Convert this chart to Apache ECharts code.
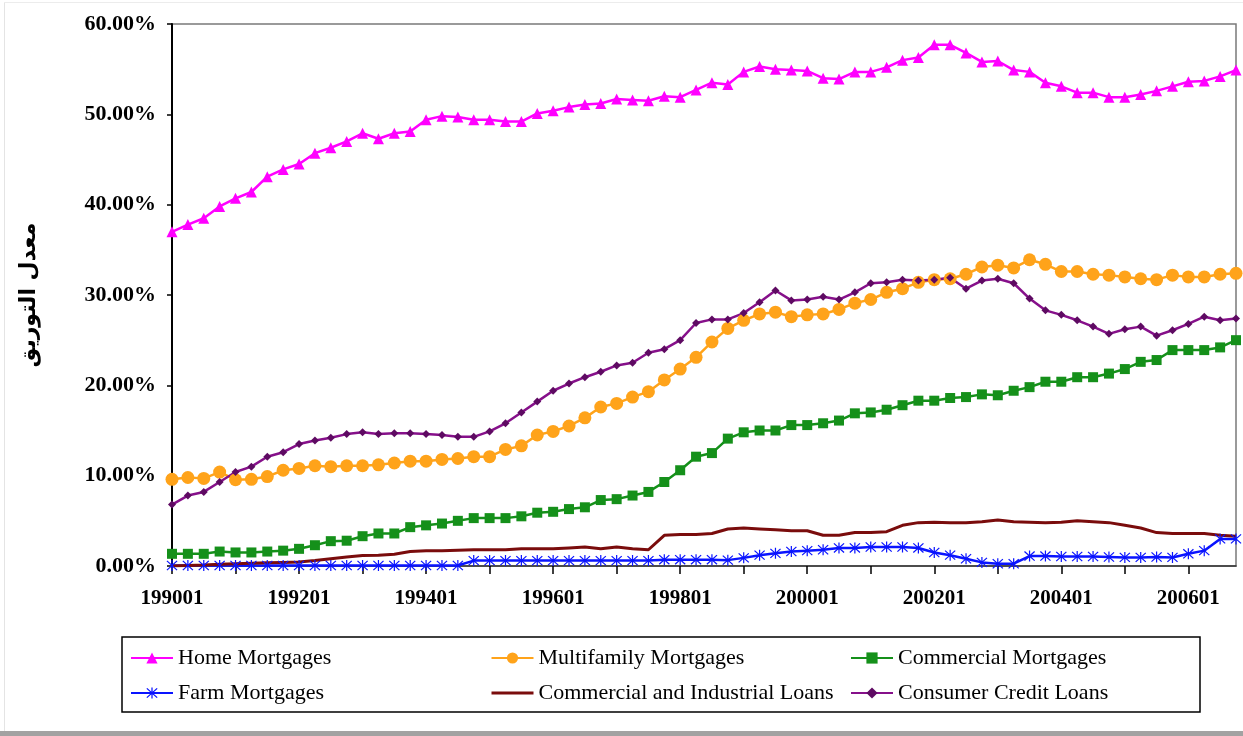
<!DOCTYPE html>
<html>
<head>
<meta charset="utf-8">
<title>Securitization rates by loan type, 1990-2006</title>
<script src="https://cdn.jsdelivr.net/npm/echarts@6/dist/echarts.min.js"></script>
<style>
  html, body { margin: 0; padding: 0; background: #ffffff; }
  #chart { width: 1243px; height: 736px; }
</style>
</head>
<body>
<div id="chart"></div>
<script>
// Quarterly periods, 1990 Q1 .. 2006 Q4 (YYYYQQ)
const categories = [
  '199001','199002','199003','199004','199101','199102','199103','199104',
  '199201','199202','199203','199204','199301','199302','199303','199304',
  '199401','199402','199403','199404','199501','199502','199503','199504',
  '199601','199602','199603','199604','199701','199702','199703','199704',
  '199801','199802','199803','199804','199901','199902','199903','199904',
  '200001','200002','200003','200004','200101','200102','200103','200104',
  '200201','200202','200203','200204','200301','200302','200303','200304',
  '200401','200402','200403','200404','200501','200502','200503','200504',
  '200601','200602','200603','200604'
];

// Y axis ticks (percent)
const yTicks = [0, 10, 20, 30, 40, 50, 60];

// Securitization rate, percent of outstanding loans
const homeMortgages = [
  37.0, 37.8, 38.5, 39.8, 40.7, 41.4, 43.1, 43.9, 44.5, 45.7, 46.3, 47.0, 47.9, 47.3, 47.9, 48.1,
  49.4, 49.8, 49.7, 49.4, 49.4, 49.2, 49.2, 50.1, 50.4, 50.8, 51.1, 51.2, 51.7, 51.6, 51.5, 52.0,
  51.9, 52.7, 53.5, 53.3, 54.7, 55.3, 55.0, 54.9, 54.8, 54.0, 53.9, 54.7, 54.7, 55.2, 56.0, 56.3,
  57.7, 57.7, 56.8, 55.8, 55.9, 54.9, 54.7, 53.5, 53.1, 52.4, 52.4, 51.9, 51.9, 52.2, 52.6, 53.1,
  53.6, 53.7, 54.2, 54.9
];
const multifamilyMortgages = [
  9.6, 9.8, 9.7, 10.4, 9.55, 9.6, 9.9, 10.6, 10.8, 11.1, 11.0, 11.1, 11.1, 11.2, 11.4, 11.6,
  11.6, 11.8, 11.9, 12.1, 12.1, 12.9, 13.3, 14.5, 14.9, 15.5, 16.4, 17.6, 18.0, 18.7, 19.3, 20.6,
  21.8, 23.1, 24.8, 26.3, 27.2, 27.9, 28.1, 27.6, 27.8, 27.9, 28.4, 29.1, 29.5, 30.3, 30.7, 31.4,
  31.7, 31.8, 32.3, 33.1, 33.3, 33.0, 33.9, 33.4, 32.6, 32.6, 32.3, 32.2, 32.0, 31.8, 31.7, 32.2,
  32.0, 32.0, 32.3, 32.4
];
const commercialMortgages = [
  1.35, 1.35, 1.35, 1.6, 1.5, 1.5, 1.6, 1.7, 1.9, 2.3, 2.75, 2.8, 3.3, 3.6, 3.6, 4.3,
  4.5, 4.7, 5.0, 5.3, 5.3, 5.3, 5.5, 5.9, 6.0, 6.3, 6.5, 7.3, 7.4, 7.8, 8.2, 9.3,
  10.6, 12.1, 12.5, 14.1, 14.8, 15.0, 15.0, 15.6, 15.6, 15.8, 16.1, 16.9, 17.0, 17.3, 17.8, 18.3,
  18.3, 18.6, 18.7, 19.0, 18.9, 19.4, 19.8, 20.4, 20.4, 20.9, 20.9, 21.3, 21.8, 22.6, 22.8, 23.9,
  23.9, 23.9, 24.2, 25.0
];
const farmMortgages = [
  0.05, 0.05, 0.05, 0.05, 0.05, 0.05, 0.05, 0.05, 0.05, 0.05, 0.05, 0.05, 0.05, 0.05, 0.05, 0.05,
  0.05, 0.05, 0.05, 0.6, 0.6, 0.6, 0.6, 0.6, 0.6, 0.6, 0.6, 0.6, 0.6, 0.6, 0.6, 0.7,
  0.7, 0.7, 0.7, 0.65, 0.9, 1.2, 1.4, 1.6, 1.7, 1.8, 2.0, 2.0, 2.1, 2.1, 2.1, 2.0,
  1.5, 1.2, 0.8, 0.4, 0.25, 0.25, 1.1, 1.1, 1.05, 1.05, 1.05, 1.0, 0.95, 0.95, 1.0, 0.95,
  1.35, 1.7, 3.0, 3.0
];
const commercialIndustrialLoans = [
  0.0, 0.05, 0.1, 0.2, 0.25, 0.3, 0.35, 0.4, 0.45, 0.6, 0.8, 1.0, 1.15, 1.2, 1.3, 1.6,
  1.7, 1.7, 1.75, 1.8, 1.8, 1.8, 1.9, 1.9, 1.9, 2.0, 2.1, 1.9, 2.1, 1.9, 1.8, 3.4,
  3.5, 3.5, 3.6, 4.1, 4.2, 4.1, 4.0, 3.9, 3.9, 3.4, 3.4, 3.7, 3.7, 3.8, 4.5, 4.8,
  4.85, 4.8, 4.8, 4.9, 5.1, 4.9, 4.85, 4.8, 4.85, 5.0, 4.9, 4.8, 4.5, 4.2, 3.7, 3.6,
  3.6, 3.6, 3.4, 3.3
];
const consumerCreditLoans = [
  6.8, 7.8, 8.2, 9.3, 10.4, 11.0, 12.1, 12.6, 13.5, 13.9, 14.2, 14.6, 14.8, 14.6, 14.7, 14.7,
  14.6, 14.5, 14.3, 14.3, 14.9, 15.8, 17.0, 18.2, 19.4, 20.2, 20.9, 21.5, 22.2, 22.5, 23.6, 24.0,
  25.0, 26.9, 27.3, 27.3, 28.0, 29.2, 30.5, 29.4, 29.5, 29.8, 29.5, 30.3, 31.3, 31.4, 31.7, 31.6,
  31.7, 31.9, 30.7, 31.6, 31.8, 31.3, 29.6, 28.3, 27.8, 27.2, 26.5, 25.7, 26.2, 26.5, 25.5, 26.1,
  26.8, 27.6, 27.2, 27.4
];

const SERIF = '"Liberation Serif", "Times New Roman", serif';

// Asterisk marker: vertical bar plus two diagonals, all wound the same way
const asterisk = 'path://M9 0L11 0L11 20L9 20Z' +
  'M1 2.4L2.4 1L19 17.6L17.6 19Z' +
  'M17.6 1L19 2.4L2.4 19L1 17.6Z';

function lineSeries(name, data, color, symbol, size, markColor) {
  return {
    name: name,
    type: 'line',
    data: data,
    symbol: symbol,
    symbolSize: size,
    showSymbol: symbol !== 'none',
    showAllSymbol: true,
    lineStyle: { color: color, width: 2.5 },
    itemStyle: { color: markColor || color, borderWidth: 0 },
    emphasis: { disabled: true }
  };
}

const chart = echarts.init(document.getElementById('chart'), null, { renderer: 'canvas' });

const legendText = { fontFamily: SERIF, fontSize: 22, color: '#000', lineHeight: 22 };
function legendColumn(left, names) {
  return {
    orient: 'vertical',
    left: left,
    top: 647,
    itemWidth: 42,
    itemHeight: 14,
    itemGap: 13,
    padding: 0,
    selectedMode: false,
    textStyle: legendText,
    data: names
  };
}

const option = {
  animation: false,
  backgroundColor: '#ffffff',
  grid: {
    left: 172, right: 7, top: 24, bottom: 170,
    show: true, borderColor: '#7a7a7a', borderWidth: 1.5, backgroundColor: 'transparent'
  },
  legend: [
    legendColumn(130, ['Home Mortgages', 'Farm Mortgages']),
    legendColumn(490, ['Multifamily Mortgages',
      // plain line: this series has no markers
      { name: 'Commercial and Industrial Loans', itemStyle: { opacity: 0 }, lineStyle: { width: 3 } }]),
    legendColumn(850, ['Commercial Mortgages', 'Consumer Credit Loans'])
  ],
  xAxis: {
    type: 'category',
    data: categories,
    boundaryGap: false,
    axisLine: { lineStyle: { color: '#333', width: 1.5 } },
    axisTick: { show: true, interval: 3, length: 8, inside: false, lineStyle: { color: '#000', width: 1.5 } },
    axisLabel: {
      interval: 7, margin: 22,
      fontFamily: SERIF, fontWeight: 'bold', fontSize: 21, color: '#000'
    },
    splitLine: { show: false }
  },
  yAxis: {
    type: 'value',
    min: yTicks[0],
    max: yTicks[yTicks.length - 1],
    interval: 10,
    name: 'معدل التوريق',
    nameLocation: 'middle',
    nameGap: 132,
    nameRotate: 90,
    nameTextStyle: { fontFamily: '"DejaVu Sans", sans-serif', fontWeight: 'bold', fontSize: 22, color: '#000' },
    axisLine: { show: true, lineStyle: { color: '#000', width: 2 } },
    axisTick: { show: true, length: 5, lineStyle: { color: '#000', width: 1.5 } },
    axisLabel: {
      margin: 16,
      fontFamily: SERIF, fontWeight: 'bold', fontSize: 22, color: '#000',
      formatter: function (v) { return v.toFixed(2) + '%'; }
    },
    splitLine: { show: false }
  },
  graphic: [
    // legend frame
    { type: 'rect', silent: true, shape: { x: 122, y: 637, width: 1078, height: 75 },
      style: { fill: 'none', stroke: '#000', lineWidth: 1.5 } },
    // page edge and drop shadow
    { type: 'rect', silent: true, shape: { x: 0, y: 731, width: 1243, height: 5 },
      style: { fill: '#a2a2a2' } },
    { type: 'rect', silent: true, shape: { x: 4, y: 2, width: 1, height: 729 },
      style: { fill: '#e4e4e4' } },
    { type: 'rect', silent: true, shape: { x: 4, y: 2, width: 1239, height: 1 },
      style: { fill: '#ececec' } }
  ],
  series: [
    lineSeries('Home Mortgages', homeMortgages, '#ff00ff', 'triangle', 11),
    lineSeries('Multifamily Mortgages', multifamilyMortgages, '#ffa31a', 'circle', 13),
    lineSeries('Commercial Mortgages', commercialMortgages, '#15901a', 'rect', 10),
    lineSeries('Farm Mortgages', farmMortgages, '#0a14ff', asterisk, 11),
    Object.assign(lineSeries('Commercial and Industrial Loans', commercialIndustrialLoans, '#7a0c0c', 'none', 0),
      { lineStyle: { color: '#7a0c0c', width: 3 } }),
    lineSeries('Consumer Credit Loans', consumerCreditLoans, '#86108a', 'diamond', 8, '#5e0a62')
  ]
};

chart.setOption(option);
</script>
</body>
</html>
